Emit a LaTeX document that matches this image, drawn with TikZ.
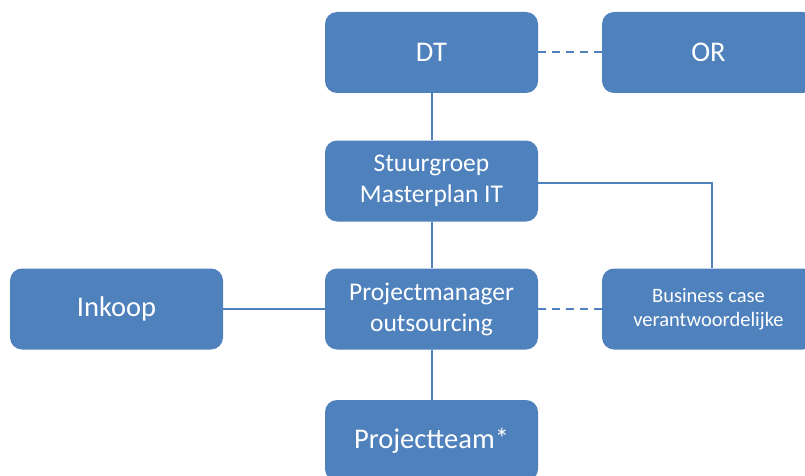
\documentclass[tikz,border=0pt]{standalone}
\usepackage{fontspec}
\setmainfont{Carlito}
\definecolor{boxblue}{HTML}{4F81BD}
\tikzset{
  orgbox/.style={rectangle, rounded corners=12pt, fill=boxblue, text=white,
    minimum width=213pt, minimum height=81pt, inner sep=2pt, align=center},
  bigtxt/.style={font=\fontsize{28.5}{34}\selectfont},
  midtxt/.style={font=\fontsize{25.5}{31}\selectfont},
  smalltxt/.style={font=\fontsize{20.5}{24}\selectfont},
  link/.style={draw=boxblue, line width=2pt},
  dlink/.style={draw=boxblue, line width=2pt, dash pattern=on 8pt off 6pt}
}
\begin{document}
\begin{tikzpicture}[x=1pt,y=-1pt]
\useasboundingbox (0,0) rectangle (805,476);
\clip (0,0) rectangle (805,476);
\node[orgbox,bigtxt] (dt) at (431.5,52.5) {DT};
\node[orgbox,bigtxt] (or) at (708.5,52.5) {OR};
\node[orgbox,midtxt] (sg) at (431.5,181) {Stuurgroep\\Masterplan IT};
\node[orgbox,midtxt] (pm) at (431.5,309) {Projectmanager\\outsourcing};
\node[orgbox,bigtxt] (ink) at (116.5,309) {Inkoop};
\node[orgbox,smalltxt] (bc) at (708.5,309) {Business case\\verantwoordelijke};
\node[orgbox,bigtxt] (pt) at (431.5,440.5) {Projectteam*};
\coordinate (corner) at (712,183);
\draw[dlink] (dt) -- (or);
\draw[link] (dt) -- (sg);
\draw[link] (sg) -- (pm);
\draw[link] (pm) -- (pt);
\draw[link] (ink) -- (pm);
\draw[dlink] (pm) -- (bc);
\draw[link] (sg.east |- corner) -- (corner) -- (corner |- bc.north);
\end{tikzpicture}
\end{document}
